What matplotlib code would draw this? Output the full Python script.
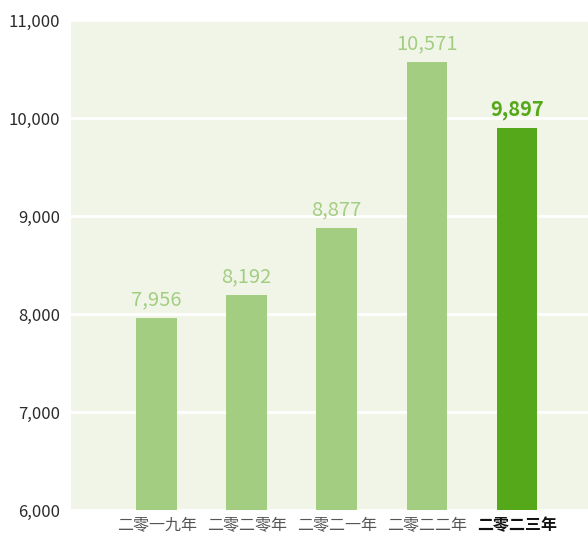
import matplotlib
matplotlib.use('Agg')
import matplotlib.pyplot as plt
import numpy as np

plt.rcParams['font.family'] = ['Noto Sans CJK SC', 'DejaVu Sans']

categories = ['二零一九年', '二零二零年', '二零二一年', '二零二二年', '二零二三年']
values = [7956, 8192, 8877, 10571, 9897]
y_ticks = [6000, 7000, 8000, 9000, 10000, 11000]

LIGHT = '#A3CE82'
DARK = '#55A819'
BG = '#F1F5E8'

fig = plt.figure(figsize=(5.88, 5.40), dpi=100)
ax = fig.add_axes([71 / 588, 30 / 540, 517 / 588, 490 / 540])
ax.set_facecolor(BG)

index = np.arange(len(categories))
colors = [LIGHT] * (len(categories) - 1) + [DARK]
ax.bar(index, values, 0.45, color=colors, zorder=3)

for i, v in enumerate(values):
    last = i == len(values) - 1
    ax.text(i, v + 80, '{:,}'.format(v), ha='center', va='bottom',
            fontsize=14.5, color=colors[i],
            fontweight='bold' if last else 'normal', zorder=4)

ax.set_ylim(6000, 11000)
ax.set_xlim(-0.95, 4.79)
ax.set_yticks(y_ticks)
ax.set_yticklabels(['{:,}'.format(t) for t in y_ticks], fontsize=12, color='#2b2b2b')
ax.set_xticks(index)
ax.set_xticklabels(categories, fontsize=11.5, color='#555555')
ax.get_xticklabels()[-1].set_color('#111111')
ax.get_xticklabels()[-1].set_fontweight('bold')
ax.tick_params(length=0, pad=8)
ax.tick_params(axis='x', pad=5)

ax.grid(axis='y', color='white', linewidth=2, zorder=1)
for s in ax.spines.values():
    s.set_visible(False)

fig.savefig('out.png', dpi=100)
